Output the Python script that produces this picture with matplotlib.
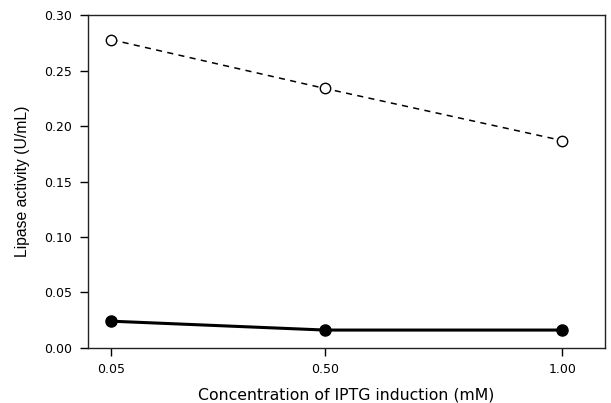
import numpy as np
import matplotlib.pyplot as plt

plt.rcParams['font.family'] = ['DejaVu Sans']

# IPTG concentration (mM)
iptg = [0.05, 0.50, 1.00]
xtick_labels = ['0.05', '0.50', '1.00']

# lipase activity (U/mL)
yticks = [0.00, 0.05, 0.10, 0.15, 0.20, 0.25, 0.30]
open_series = [0.278, 0.234, 0.187]
filled_series = [0.024, 0.016, 0.016]

fig = plt.figure(figsize=(6.11, 4.03), dpi=100)
ax = fig.add_axes([0.1435, 0.137, 0.8465, 0.825])

ax.plot(iptg, open_series, 'k--', lw=1.1, dashes=(4, 3.5),
        marker='o', ms=7.5, mfc='white', mec='black', mew=1.0)
ax.plot(iptg, filled_series, 'k-', lw=2.2,
        marker='o', ms=8, mfc='black', mec='black')

ax.set_xlim(0, 1.09)
ax.set_ylim(0, 0.30)
ax.set_xticks(iptg)
ax.set_xticklabels(xtick_labels)
ax.set_yticks(yticks)
ax.set_yticklabels(['%.2f' % v for v in yticks])

ax.tick_params(direction='out', length=6, width=1, labelsize=9, pad=5.5)
ax.tick_params(axis='x', pad=5)
for s in ax.spines.values():
    s.set_linewidth(1.0)
    s.set_color('#222222')

ax.set_xlabel('Concentration of IPTG induction (mM)', fontsize=11.3, labelpad=8)
ax.set_ylabel('Lipase activity (U/mL)', fontsize=11.3, labelpad=10,
              family=['Liberation Sans', 'DejaVu Sans'])

plt.savefig('out.png', dpi=100)
